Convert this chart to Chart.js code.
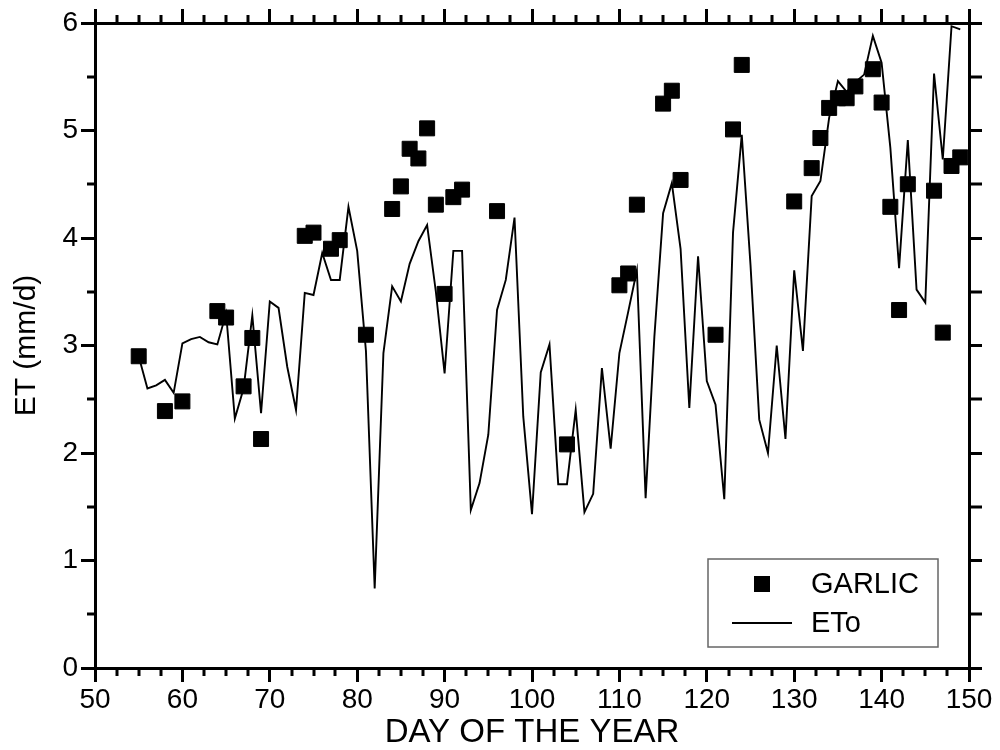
<!DOCTYPE html>
<html>
<head>
<meta charset="utf-8">
<script src="https://cdn.jsdelivr.net/npm/chart.js@4/dist/chart.umd.min.js"></script>
<style>
  html, body { margin: 0; padding: 0; background: #fff; }
  #wrap { width: 1000px; height: 750px; }
</style>
</head>
<body>
<div id="wrap"><canvas id="c" width="1000" height="750"></canvas></div>
<script>
// GARLIC measurements (day of year, ET mm/d)
const garlicDays = [55, 58, 60, 64, 65, 67, 68, 69, 74, 75, 77, 78, 81, 84, 85, 86, 87, 88, 89, 90, 91, 92, 96, 104,
  110, 111, 112, 115, 116, 117, 121, 123, 124, 130, 132, 133, 134, 135, 136, 137, 139, 140, 141, 142, 143, 146, 147, 148, 149];
const garlicEt = [2.90, 2.39, 2.48, 3.32, 3.26, 2.62, 3.07, 2.13, 4.02, 4.05, 3.90, 3.98, 3.10, 4.27, 4.48, 4.83, 4.74, 5.02, 4.31, 3.48, 4.38, 4.45, 4.25, 2.08,
  3.56, 3.67, 4.31, 5.25, 5.37, 4.54, 3.10, 5.01, 5.61, 4.34, 4.65, 4.93, 5.21, 5.30, 5.30, 5.41, 5.57, 5.26, 4.29, 3.33, 4.50, 4.44, 3.12, 4.67, 4.75];

// reference ETo, daily
const etoDays = [55, 56, 57, 58, 59, 60, 61, 62, 63, 64, 65, 66, 67, 68, 69, 70, 71, 72, 73, 74,
  75, 76, 77, 78, 79, 80, 81, 82, 83, 84, 85, 86, 87, 88, 89, 90, 91, 92, 93, 94,
  95, 96, 97, 98, 99, 100, 101, 102, 103, 104, 105, 106, 107, 108, 109, 110, 111, 112, 113, 114,
  115, 116, 117, 118, 119, 120, 121, 122, 123, 124, 125, 126, 127, 128, 129, 130, 131, 132, 133, 134,
  135, 136, 137, 138, 139, 140, 141, 142, 143, 144, 145, 146, 147, 148, 149];
const etoValues = [2.90, 2.60, 2.63, 2.68, 2.56, 3.02, 3.06, 3.08, 3.03, 3.01, 3.30, 2.32, 2.60, 3.28, 2.37, 3.41, 3.35, 2.80, 2.40, 3.49,
  3.47, 3.86, 3.61, 3.61, 4.29, 3.88, 2.95, 0.74, 2.93, 3.55, 3.41, 3.76, 3.97, 4.12, 3.50, 2.74, 3.88, 3.88, 1.47, 1.72,
  2.17, 3.33, 3.61, 4.19, 2.34, 1.43, 2.75, 3.01, 1.71, 1.71, 2.40, 1.45, 1.62, 2.79, 2.04, 2.93, 3.31, 3.70, 1.58, 3.08,
  4.23, 4.51, 3.90, 2.42, 3.83, 2.67, 2.45, 1.57, 4.05, 4.96, 3.75, 2.31, 2.00, 3.00, 2.13, 3.70, 2.95, 4.39, 4.53, 5.12,
  5.46, 5.36, 5.45, 5.52, 5.88, 5.63, 4.84, 3.72, 4.91, 3.52, 3.40, 5.53, 4.73, 5.97, 5.94];

const seriesNames = ["GARLIC", "ETo"];
const xTitle = "DAY OF THE YEAR";
const yTitle = "ET (mm/d)";
const xMin = 50, xMax = 150, xStep = 10, xMinor = 2.5;
const yMin = 0, yMax = 6, yStep = 1, yMinor = 0.5;

const FONT = "'Liberation Sans', Arial, Helvetica, sans-serif";

// short ticks between the labelled ones, on all four sides
const minorTicks = {
  id: "minorTicks",
  afterDraw(chart) {
    const { ctx, chartArea: a, scales } = chart;
    ctx.save();
    ctx.strokeStyle = "#000";
    ctx.lineWidth = 3;
    ctx.beginPath();
    for (let v = xMin + xMinor; v < xMax; v += xMinor) {
      if (Math.abs(v % xStep) < 1e-6) continue;
      const px = Math.round(scales.x.getPixelForValue(v));
      ctx.moveTo(px, a.bottom); ctx.lineTo(px, a.bottom + 8);
      ctx.moveTo(px, a.top); ctx.lineTo(px, a.top - 8);
    }
    for (let v = yMin + yMinor; v < yMax; v += yStep) {
      const py = Math.round(scales.y.getPixelForValue(v));
      ctx.moveTo(a.left, py); ctx.lineTo(a.left - 8, py);
      ctx.moveTo(a.right, py); ctx.lineTo(a.right + 13, py);
    }
    ctx.stroke();
    ctx.restore();
  }
};

// boxed legend inside the lower right corner
const boxLegend = {
  id: "boxLegend",
  afterDraw(chart) {
    const { ctx, chartArea: a } = chart;
    const x0 = a.right - 261, y0 = a.bottom - 109, w = 230, h = 88;
    ctx.save();
    ctx.fillStyle = "#fff";
    ctx.fillRect(x0, y0, w, h);
    ctx.strokeStyle = "#666";
    ctx.lineWidth = 1.5;
    ctx.strokeRect(x0, y0, w, h);

    ctx.fillStyle = "#000";
    ctx.fillRect(x0 + 46, y0 + 17, 16, 16);
    ctx.strokeStyle = "#000";
    ctx.lineWidth = 2;
    ctx.beginPath();
    ctx.moveTo(x0 + 24, y0 + 64);
    ctx.lineTo(x0 + 84, y0 + 64);
    ctx.stroke();

    ctx.font = "29px " + FONT;
    ctx.textBaseline = "middle";
    ctx.fillText(seriesNames[0], x0 + 103, y0 + 26);
    ctx.fillText(seriesNames[1], x0 + 103, y0 + 65);
    ctx.restore();
  }
};

const axisGrid = (len) => ({
  drawOnChartArea: false,
  drawTicks: true,
  tickLength: len,
  lineWidth: 3,
  color: "#000"
});
const axisBorder = { display: true, width: 3, color: "#000" };

new Chart(document.getElementById("c"), {
  type: "scatter",
  data: {
    datasets: [
      {
        label: seriesNames[0],
        data: garlicDays.map((d, i) => ({ x: d, y: garlicEt[i] })),
        pointStyle: "rect",
        pointRadius: 10.6,
        pointBackgroundColor: "#000",
        pointBorderColor: "#000",
        pointBorderWidth: 1,
        showLine: false,
        clip: false
      },
      {
        label: seriesNames[1],
        data: etoDays.map((d, i) => ({ x: d, y: etoValues[i] })),
        showLine: true,
        borderColor: "#000",
        borderWidth: 1.9,
        pointRadius: 0,
        tension: 0,
        clip: false
      }
    ]
  },
  options: {
    responsive: false,
    animation: false,
    layout: { padding: 0 },
    plugins: {
      legend: { display: false },
      tooltip: { enabled: false }
    },
    scales: {
      x: {
        type: "linear",
        position: "bottom",
        min: xMin, max: xMax,
        afterFit: s => { s.height = 82; },
        ticks: { stepSize: xStep, color: "#000", font: { size: 28, family: FONT }, padding: 1, maxRotation: 0, autoSkip: false },
        grid: axisGrid(14),
        border: axisBorder,
        title: { display: true, text: xTitle, color: "#000", font: { size: 33, family: FONT, lineHeight: 1 }, padding: { top: 0, bottom: 1 } }
      },
      xTop: {
        type: "linear",
        position: "top",
        min: xMin, max: xMax,
        afterFit: s => { s.height = 23; },
        ticks: { stepSize: xStep, display: false },
        grid: axisGrid(14),
        border: axisBorder
      },
      y: {
        type: "linear",
        position: "left",
        min: yMin, max: yMax,
        afterFit: s => { s.width = 95; },
        ticks: { stepSize: yStep, color: "#000", font: { size: 28, family: FONT }, padding: 3 },
        grid: axisGrid(14),
        border: axisBorder,
        title: { display: true, text: yTitle, color: "#000", font: { size: 30, family: FONT, lineHeight: 1.2 }, padding: { top: 9, bottom: 0 } }
      },
      yRight: {
        type: "linear",
        position: "right",
        min: yMin, max: yMax,
        afterFit: s => { s.width = 31; },
        ticks: { stepSize: yStep, display: false },
        grid: axisGrid(13),
        border: axisBorder
      }
    }
  },
  plugins: [minorTicks, boxLegend]
});
</script>
</body>
</html>
